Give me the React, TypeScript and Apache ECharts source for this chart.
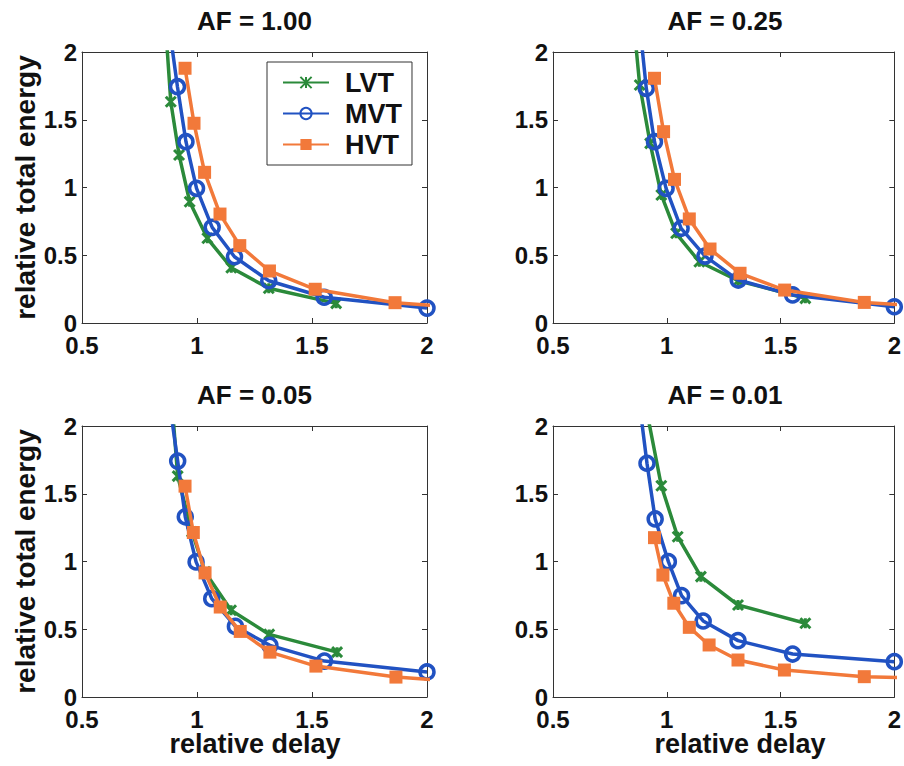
import React, { useEffect, useRef } from "react";
import * as echarts from "echarts";

// ---- Data ----
const TITLES = ["AF = 1.00", "AF = 0.25", "AF = 0.05", "AF = 0.01"];
const SERIES_NAMES = ["LVT", "MVT", "HVT"];
const X_TICKS = [0.5, 1, 1.5, 2];
const Y_TICKS = [0, 0.5, 1, 1.5, 2];
const X_NAME = "relative delay";
const Y_NAME = "relative total energy";

// AF = 1.00
const AF100_LVT_X = [0.855, 0.886, 0.922, 0.968, 1.045, 1.149, 1.312, 1.605];
const AF100_LVT_Y = [2.4, 1.633, 1.24, 0.895, 0.625, 0.408, 0.256, 0.145];
const AF100_MVT_X = [0.87, 0.915, 0.952, 0.998, 1.066, 1.163, 1.312, 1.553, 2.0];
const AF100_MVT_Y = [2.3, 1.744, 1.338, 0.994, 0.706, 0.489, 0.312, 0.19, 0.11];
const AF100_HVT_X = [0.948, 0.987, 1.033, 1.1, 1.186, 1.315, 1.514, 1.861, 2.25];
const AF100_HVT_Y = [1.88, 1.474, 1.112, 0.804, 0.571, 0.384, 0.249, 0.15, 0.1];

// AF = 0.25
const AF025_LVT_X = [0.85, 0.881, 0.927, 0.976, 1.041, 1.143, 1.314, 1.609];
const AF025_LVT_Y = [2.3, 1.756, 1.326, 0.945, 0.662, 0.452, 0.312, 0.182];
const AF025_MVT_X = [0.875, 0.91, 0.946, 0.997, 1.063, 1.168, 1.314, 1.553, 2.0];
const AF025_MVT_Y = [2.3, 1.732, 1.338, 0.994, 0.699, 0.494, 0.317, 0.207, 0.12];
const AF025_HVT_X = [0.946, 0.986, 1.034, 1.099, 1.19, 1.322, 1.518, 1.868, 2.25];
const AF025_HVT_Y = [1.806, 1.412, 1.06, 0.768, 0.546, 0.367, 0.243, 0.152, 0.11];

// AF = 0.05
const AF005_LVT_X = [0.89, 0.916, 0.978, 1.035, 1.148, 1.314, 1.609];
const AF005_LVT_Y = [2.2, 1.63, 1.219, 0.923, 0.64, 0.462, 0.331];
const AF005_MVT_X = [0.87, 0.916, 0.949, 0.996, 1.064, 1.167, 1.317, 1.554, 2.0];
const AF005_MVT_Y = [2.3, 1.741, 1.33, 0.997, 0.726, 0.521, 0.381, 0.265, 0.185];
const AF005_HVT_X = [0.948, 0.984, 1.035, 1.101, 1.188, 1.317, 1.517, 1.865, 2.25];
const AF005_HVT_Y = [1.556, 1.214, 0.916, 0.664, 0.484, 0.331, 0.228, 0.147, 0.1];

// AF = 0.01
const AF001_LVT_X = [0.89, 0.976, 1.048, 1.15, 1.313, 1.609];
const AF001_LVT_Y = [2.3, 1.559, 1.183, 0.888, 0.679, 0.544];
const AF001_MVT_X = [0.87, 0.913, 0.949, 1.007, 1.065, 1.16, 1.313, 1.553, 2.0];
const AF001_MVT_Y = [2.3, 1.725, 1.314, 0.999, 0.748, 0.561, 0.416, 0.317, 0.261];
const AF001_HVT_X = [0.946, 0.983, 1.031, 1.099, 1.186, 1.313, 1.517, 1.868, 2.25];
const AF001_HVT_Y = [1.176, 0.9, 0.692, 0.514, 0.384, 0.273, 0.199, 0.15, 0.135];

const PANEL_DATA = [
  [[AF100_LVT_X, AF100_LVT_Y], [AF100_MVT_X, AF100_MVT_Y], [AF100_HVT_X, AF100_HVT_Y]],
  [[AF025_LVT_X, AF025_LVT_Y], [AF025_MVT_X, AF025_MVT_Y], [AF025_HVT_X, AF025_HVT_Y]],
  [[AF005_LVT_X, AF005_LVT_Y], [AF005_MVT_X, AF005_MVT_Y], [AF005_HVT_X, AF005_HVT_Y]],
  [[AF001_LVT_X, AF001_LVT_Y], [AF001_MVT_X, AF001_MVT_Y], [AF001_HVT_X, AF001_HVT_Y]],
];

// ---- Styling / layout ----
const COLORS = ["#2b8a3a", "#2152c2", "#f2793a"];
const GRIDS = [
  { left: 82, top: 52, width: 345, height: 271 },
  { left: 553, top: 52, width: 344, height: 271 },
  { left: 82, top: 426, width: 345, height: 271 },
  { left: 553, top: 426, width: 344, height: 271 },
];
const X_NAME_CENTERS = [255, 740];
const FONT = "'Liberation Sans', Arial, Helvetica, sans-serif";
const AXIS_COLOR = "#333";
const TEXT_COLOR = "#111";

const X_MARK = "path://M0,0L10,10M10,0L0,10M5,0L5,10";

function buildOption() {
  const xAxes: any[] = [];
  const yAxes: any[] = [];
  const series: any[] = [];
  const graphics: any[] = [];

  GRIDS.forEach((g, i) => {
    const common = {
      gridIndex: i,
      type: "value",
      axisLine: { show: true, onZero: false, lineStyle: { color: AXIS_COLOR, width: 1 } },
      axisTick: { show: true, inside: true, length: 5, lineStyle: { color: AXIS_COLOR } },
      splitLine: { show: false },
    };
    const xRange = {
      min: X_TICKS[0],
      max: X_TICKS[X_TICKS.length - 1],
      interval: X_TICKS[1] - X_TICKS[0],
    };
    const yRange = {
      min: Y_TICKS[0],
      max: Y_TICKS[Y_TICKS.length - 1],
      interval: Y_TICKS[1] - Y_TICKS[0],
    };
    xAxes.push({
      ...common,
      ...xRange,
      position: "bottom",
      axisLabel: {
        color: TEXT_COLOR,
        fontSize: 24,
        fontWeight: "bold",
        fontFamily: FONT,
        margin: 10,
      },
    });
    xAxes.push({ ...common, ...xRange, position: "top", axisLabel: { show: false } });
    yAxes.push({
      ...common,
      ...yRange,
      position: "left",
      axisLabel: {
        color: TEXT_COLOR,
        fontSize: 24,
        fontWeight: "bold",
        fontFamily: FONT,
        margin: 5,
      },
    });
    yAxes.push({ ...common, ...yRange, position: "right", axisLabel: { show: false } });

    PANEL_DATA[i].forEach((pair, s) => {
      const [xs, ys] = pair;
      const data = xs.map((x, k) => [x, ys[k]]);
      const base: any = {
        name: SERIES_NAMES[s],
        type: "line",
        xAxisIndex: i * 2,
        yAxisIndex: i * 2,
        data,
        clip: true,
        lineStyle: { color: COLORS[s], width: 3.5 },
        z: 2 + s,
      };
      if (s === 0) {
        base.symbol = X_MARK;
        base.symbolSize = 10;
        base.itemStyle = { color: COLORS[s], borderColor: COLORS[s], borderWidth: 3 };
      } else if (s === 1) {
        base.symbol = "circle";
        base.symbolSize = 14;
        base.itemStyle = { color: "rgba(255,255,255,0)", borderColor: COLORS[s], borderWidth: 3.5 };
      } else {
        base.symbol = "rect";
        base.symbolSize = 13;
        base.itemStyle = { color: COLORS[s], borderColor: COLORS[s], borderWidth: 0 };
      }
      series.push(base);
    });

    graphics.push({
      type: "text",
      x: g.left + g.width / 2,
      y: g.top - 31,
      style: {
        text: TITLES[i],
        fill: TEXT_COLOR,
        font: `bold 26px ${FONT}`,
        align: "center",
        verticalAlign: "middle",
        textAlign: "center",
        textVerticalAlign: "middle",
      },
    });
  });

  // y-axis names (left column)
  [0, 2].forEach((i) => {
    const g = GRIDS[i];
    graphics.push({
      type: "text",
      x: 25,
      y: g.top + g.height / 2,
      rotation: Math.PI / 2,
      style: {
        text: Y_NAME,
        fill: TEXT_COLOR,
        font: `bold 28px ${FONT}`,
        align: "center",
        verticalAlign: "middle",
        textAlign: "center",
        textVerticalAlign: "middle",
      },
    });
  });

  // x-axis names (bottom row)
  [2, 3].forEach((i, k) => {
    const g = GRIDS[i];
    graphics.push({
      type: "text",
      x: X_NAME_CENTERS[k],
      y: g.top + g.height + 47,
      style: {
        text: X_NAME,
        fill: TEXT_COLOR,
        font: `bold 27px ${FONT}`,
        align: "center",
        verticalAlign: "middle",
        textAlign: "center",
        textVerticalAlign: "middle",
      },
    });
  });

  return {
    animation: false,
    backgroundColor: "#ffffff",
    grid: GRIDS.map((g) => ({ ...g, containLabel: false })),
    xAxis: xAxes,
    yAxis: yAxes,
    series,
    legend: {
      show: true,
      data: SERIES_NAMES,
      orient: "vertical",
      left: 267,
      top: 62,
      itemWidth: 46,
      itemHeight: 14,
      itemGap: 4,
      padding: [7, 10, 7, 15],
      borderColor: AXIS_COLOR,
      borderWidth: 1,
      backgroundColor: "#fff",
      selectedMode: false,
      formatter: (name: string) => `{s| }{t|${name}}`,
      textStyle: {
        color: TEXT_COLOR,
        fontSize: 27,
        fontWeight: "bold",
        fontFamily: FONT,
        rich: {
          s: {
            width: 11,
            fontSize: 27,
            fontFamily: FONT,
          },
          t: {
            color: TEXT_COLOR,
            fontSize: 27,
            fontWeight: "bold",
            fontFamily: FONT,
          },
        },
      },
    },
    graphic: graphics,
  };
}

export default function App() {
  const ref = useRef<HTMLDivElement>(null);
  useEffect(() => {
    if (!ref.current) return;
    const chart = echarts.init(ref.current, undefined, { renderer: "svg" });
    chart.setOption(buildOption() as any);
    return () => chart.dispose();
  }, []);
  return (
    <div
      ref={ref}
      style={{ position: "fixed", left: 0, top: 0, width: 904, height: 766, background: "#fff" }}
    />
  );
}
